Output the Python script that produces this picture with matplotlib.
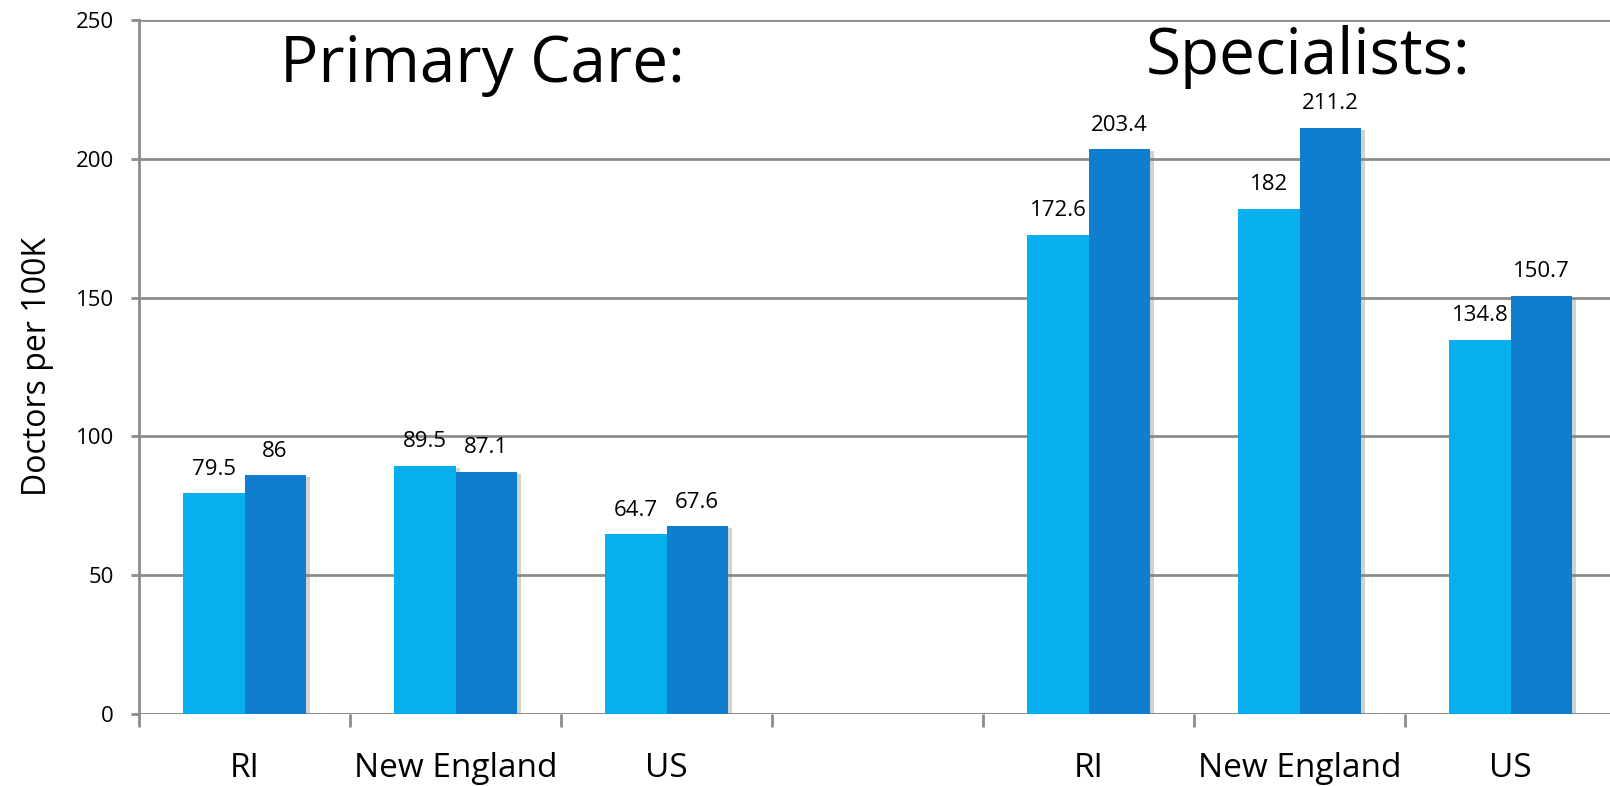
import numpy as np
import matplotlib
matplotlib.use('Agg')
from matplotlib import pyplot as plt
from matplotlib import patheffects as pe

# data
categories = ['RI', 'New England', 'US', '', 'RI', 'New England', 'US']
series_a = [79.5, 89.5, 64.7, 0, 172.6, 182, 134.8]
series_b = [86, 87.1, 67.6, 0, 203.4, 211.2, 150.7]
group_titles = ['Primary Care:', 'Specialists:']
y_ticks = [0, 50, 100, 150, 200, 250]

plt.rcParams['font.family'] = ['Open Sans', 'DejaVu Sans']

fig = plt.figure(figsize=(16.1, 7.86), dpi=100)
ax = fig.add_axes([139 / 1610, 72 / 786, 1 - 139 / 1610, 694 / 786])

x = np.arange(len(categories))
w = 0.29
shadow = [pe.SimplePatchShadow(offset=(3, -1.5), shadow_rgbFace='gray', alpha=0.35), pe.Normal()]

for i in range(len(categories)):
	if categories[i] == '':
		continue
	b1 = ax.bar(x[i] - w / 2, series_a[i], w, color='#07AFEE', zorder=3)
	b2 = ax.bar(x[i] + w / 2, series_b[i], w, color='#0F7ECF', zorder=3)
	for b in list(b1) + list(b2):
		b.set_path_effects(shadow)
	ax.annotate(f'{series_a[i]:g}', (x[i] - w / 2, series_a[i]), xytext=(0, 13.5),
				textcoords='offset points', ha='center', va='baseline', fontsize=16)
	ax.annotate(f'{series_b[i]:g}', (x[i] + w / 2, series_b[i]), xytext=(0, 13.5),
				textcoords='offset points', ha='center', va='baseline', fontsize=16)

ax.set_ylim(0, 250)
ax.set_xlim(-0.5, -0.5 + 1471 / 211)
ax.set_yticks(y_ticks)
ax.set_xticks(np.arange(len(categories)) - 0.5)
ax.set_xticklabels([])
ax.tick_params(axis='x', which='major', length=9, width=2, color='#8c8c8c')
ax.tick_params(axis='y', length=6, width=2, color='#8c8c8c', labelsize=16, pad=12)

# category labels under the bars
for i in range(len(categories)):
	ax.text(x[i], -0.0908, categories[i], transform=ax.get_xaxis_transform(),
			ha='center', va='baseline', fontsize=24)

ax.yaxis.grid(True, color='#8c8c8c', linewidth=2, zorder=0)
ax.set_axisbelow(True)
for s in ['top', 'right', 'bottom']:
	ax.spines[s].set_visible(False)
ax.spines['left'].set_color('#8c8c8c')
ax.spines['left'].set_linewidth(2)
ax.axhline(0, color='#8c8c8c', linewidth=2, zorder=2)

ax.set_ylabel('Doctors per 100K', fontsize=23, labelpad=16)

ax.text(1.126, 227.7, group_titles[0], fontsize=46, ha='center', va='baseline')
ax.text(5.04, 230.5, group_titles[1], fontsize=46, ha='center', va='baseline')

fig.savefig('out.png', dpi=100)
